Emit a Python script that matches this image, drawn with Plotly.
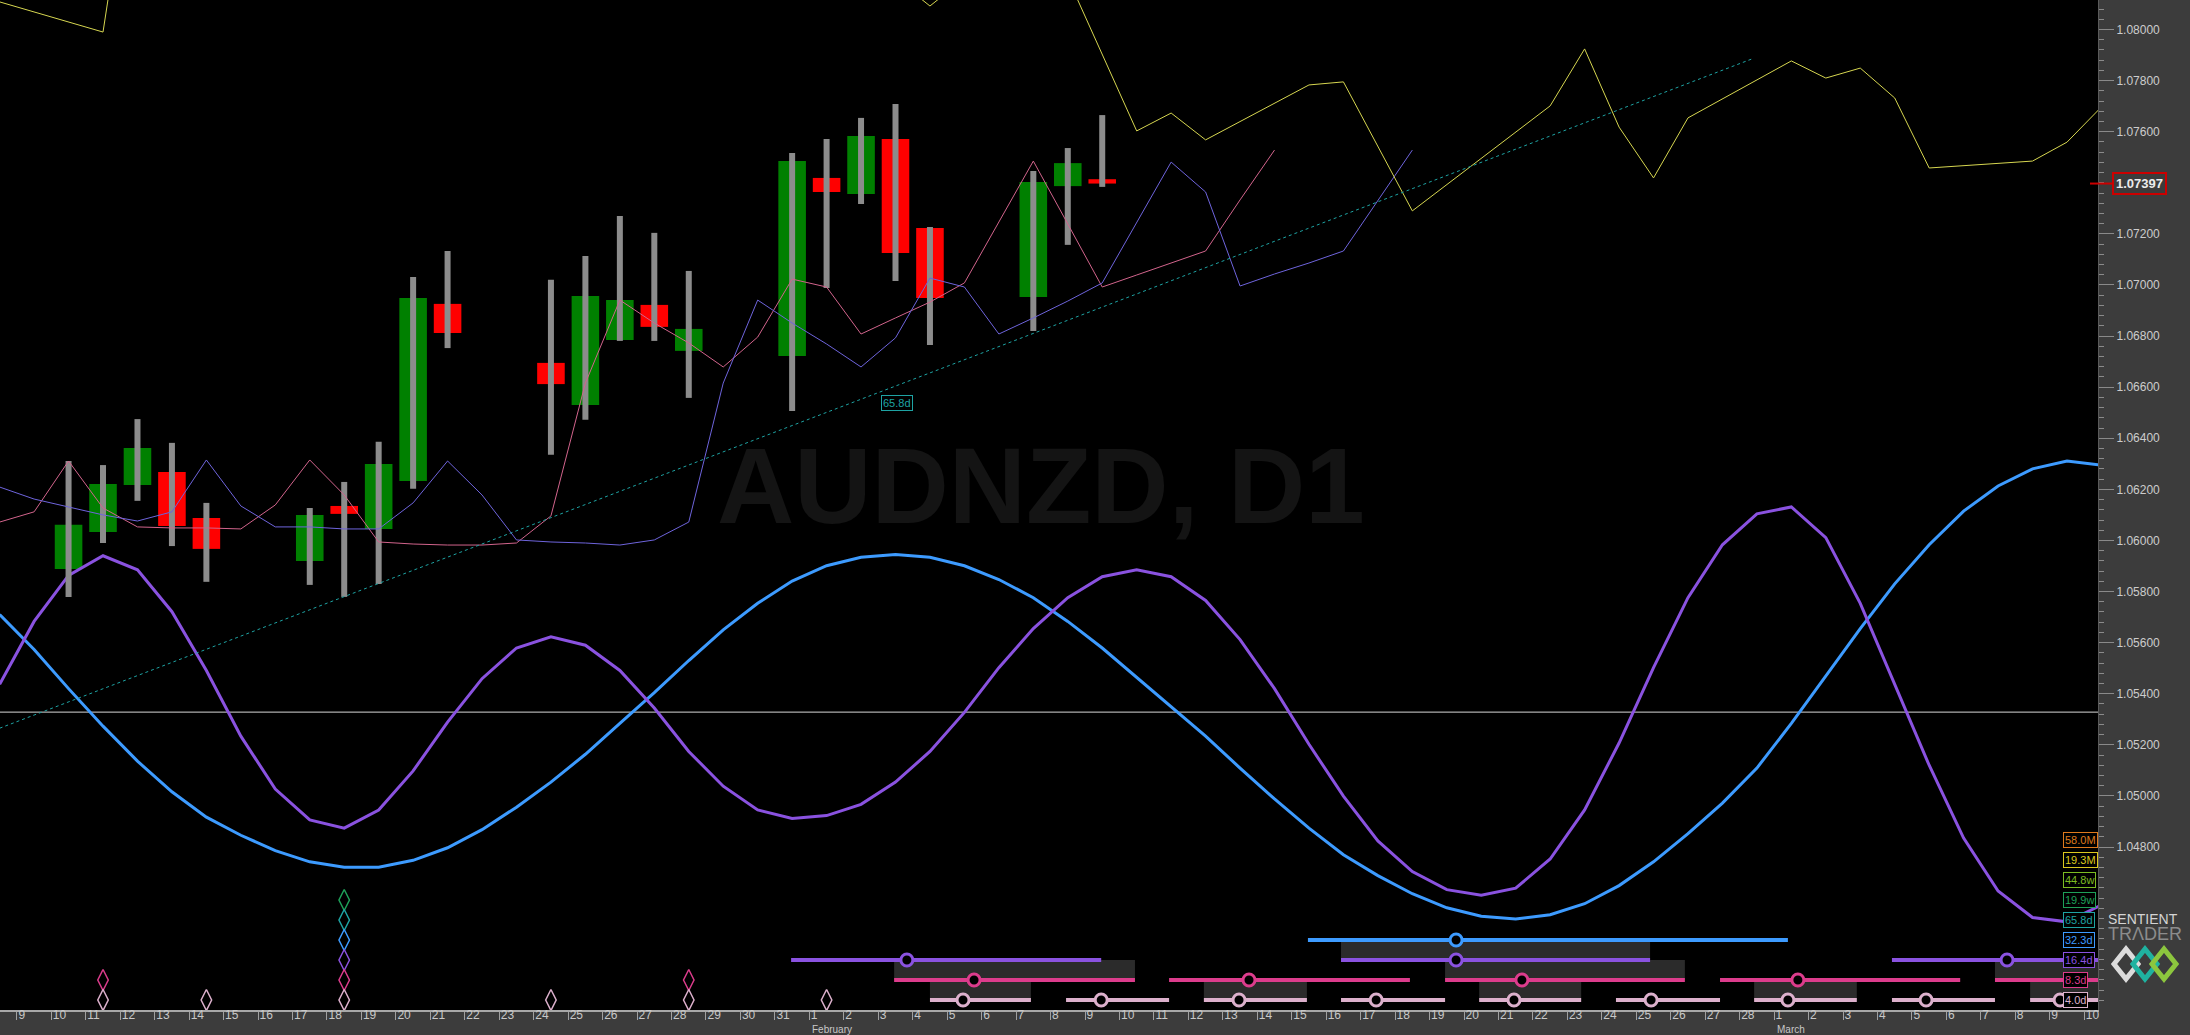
import plotly.graph_objects as go
from datetime import date

ORIGIN = date(2022, 1, 9)          # x = 0 is the start of 9 January

# ---------------- x axis ----------------
day_ticks = list(range(61))
day_labels = ["9", "10", "11", "12", "13", "14", "15", "16", "17", "18", "19", "20", "21", "22", "23",
              "24", "25", "26", "27", "28", "29", "30", "31",
              "1", "2", "3", "4", "5", "6", "7", "8", "9", "10", "11", "12", "13", "14", "15", "16",
              "17", "18", "19", "20", "21", "22", "23", "24", "25", "26", "27", "28",
              "1", "2", "3", "4", "5", "6", "7", "8", "9", "10"]
month_names = ["February", "March"]
month_ticks = [23, 51]

# ---------------- y axis labels (1.07400 sits under the last-price box) ----------------
price_ticks = [1.048, 1.050, 1.052, 1.054, 1.056, 1.058, 1.060, 1.062, 1.064, 1.066, 1.068, 1.070,
               1.072, 1.076, 1.078, 1.080]

# ---------------- daily candles ----------------
candle_dates = ["2022-01-10", "2022-01-11", "2022-01-12", "2022-01-13", "2022-01-14",
                "2022-01-17", "2022-01-18", "2022-01-19", "2022-01-20", "2022-01-21",
                "2022-01-24", "2022-01-25", "2022-01-26", "2022-01-27", "2022-01-28",
                "2022-01-31", "2022-02-01", "2022-02-02", "2022-02-03", "2022-02-04",
                "2022-02-07", "2022-02-08", "2022-02-09"]
opens = [1.05888, 1.06033, 1.06217, 1.06268, 1.06088, 1.05920, 1.06135, 1.06045, 1.06233, 1.06926,
         1.06695, 1.06530, 1.06785, 1.06922, 1.06742, 1.06722, 1.07419, 1.07356, 1.07571, 1.07223,
         1.06953, 1.07387, 1.07414]
highs = [1.06311, 1.06295, 1.06475, 1.06382, 1.06147, 1.06127, 1.06229, 1.06386, 1.07031, 1.07133,
         1.07020, 1.07113, 1.07270, 1.07204, 1.07055, 1.07517, 1.07571, 1.07654, 1.07708, 1.07227,
         1.07446, 1.07536, 1.07665]
lows = [1.05779, 1.05990, 1.06155, 1.05978, 1.05838, 1.05826, 1.05779, 1.05830, 1.06202, 1.06753,
        1.06335, 1.06472, 1.06781, 1.06781, 1.06558, 1.06507, 1.06988, 1.07317, 1.07016, 1.06765,
        1.06820, 1.07157, 1.07384]
closes = [1.06061, 1.06221, 1.06362, 1.06057, 1.05967, 1.06100, 1.06104, 1.06299, 1.06949, 1.06812,
          1.06612, 1.06957, 1.06941, 1.06836, 1.06828, 1.07485, 1.07364, 1.07583, 1.07125, 1.06949,
          1.07403, 1.07477, 1.07397]
last_price = 1.07397

# ---------------- thin projection lines (first value belongs to 8 January) ----------------
series_first_day = -1
fld_short = [1.06072, 1.06112, 1.06311, 1.06127, 1.06053, 1.06049, 1.06049, 1.06045, 1.06139, 1.06315,
             1.06178, 1.05994, 1.05986, 1.05982, 1.05982, 1.05990, 1.06096, 1.06616, 1.06941, 1.06851,
             1.06773, 1.06679, 1.06796, 1.07023, 1.06992, 1.06808, 1.06871, 1.06933, 1.07008, 1.07247,
             1.07485, 1.07239, 1.06992, 1.07039, 1.07086, 1.07133, 1.07333, 1.07528]
fld_long = [1.06209, 1.06162, 1.06131, 1.06100, 1.06076, 1.06112, 1.06315, 1.06135, 1.06053, 1.06053,
            1.06045, 1.06045, 1.06147, 1.06311, 1.06178, 1.06002, 1.05994, 1.05990, 1.05982, 1.06002,
            1.06072, 1.06616, 1.06941, 1.06851, 1.06769, 1.06679, 1.06793, 1.07027, 1.06992, 1.06808,
            1.06871, 1.06937, 1.07008, 1.07243, 1.07481, 1.07364, 1.06996, 1.07043, 1.07086, 1.07133,
            1.07333, 1.07528]
yellow_days = [-1, 2, 3, 25, 26, 27, 30, 32, 33, 34, 37, 38, 40, 44, 45, 46, 47, 48, 51, 52, 53, 54, 55,
               58, 59, 60]
yellow_vals = [1.08108, 1.07990, 1.08870, 1.08200, 1.08092, 1.08200, 1.08202, 1.07603, 1.07673, 1.07568,
               1.07783, 1.07795, 1.07290, 1.07701, 1.07924, 1.07618, 1.07419, 1.07654, 1.07877, 1.07810,
               1.07849, 1.07732, 1.07458, 1.07485, 1.07559, 1.07697]
trend_days = [-0.5, 50.4]
trend_vals = [1.05265, 1.07887]
trend_label = "65.8d"
trend_label_day = 25.54
trend_label_val = 1.06538
hline_val = 1.05328

# ---------------- cycle curves (first value belongs to 8 January) ----------------
cycle_16 = [1.05437, 1.05683, 1.05863, 1.05940, 1.05885, 1.05721, 1.05491, 1.05234, 1.05027, 1.04906,
            1.04874, 1.04945, 1.05098, 1.05289, 1.05459, 1.05579, 1.05623, 1.05590, 1.05491, 1.05344,
            1.05174, 1.05038, 1.04945, 1.04912, 1.04923, 1.04967, 1.05054, 1.05174, 1.05327, 1.05502,
            1.05655, 1.05776, 1.05858, 1.05885, 1.05858, 1.05765, 1.05612, 1.05420, 1.05202, 1.04999,
            1.04824, 1.04704, 1.04633, 1.04611, 1.04639, 1.04753, 1.04945, 1.05207, 1.05502, 1.05776,
            1.05983, 1.06104, 1.06131, 1.06011, 1.05754, 1.05437, 1.05120, 1.04835, 1.04628, 1.04524,
            1.04507, 1.04573]
cycle_32 = [1.05710, 1.05573, 1.05420, 1.05273, 1.05136, 1.05016, 1.04917, 1.04846, 1.04786, 1.04742,
            1.04721, 1.04721, 1.04748, 1.04797, 1.04868, 1.04956, 1.05054, 1.05163, 1.05284, 1.05404,
            1.05530, 1.05650, 1.05754, 1.05841, 1.05901, 1.05934, 1.05945, 1.05934, 1.05901, 1.05847,
            1.05776, 1.05683, 1.05579, 1.05464, 1.05349, 1.05234, 1.05109, 1.04988, 1.04874, 1.04770,
            1.04688, 1.04617, 1.04562, 1.04529, 1.04518, 1.04535, 1.04578, 1.04649, 1.04742, 1.04852,
            1.04972, 1.05109, 1.05284, 1.05469, 1.05655, 1.05830, 1.05983, 1.06115, 1.06213, 1.06280,
            1.06311, 1.06295]

# ---------------- cycle legend rows ----------------
cycle_names = ["58.0M", "19.3M", "44.8w", "19.9w", "65.8d", "32.3d", "16.4d", "8.3d", "4.0d"]
cycle_colors = ["#de7a1c", "#dcc81e", "#7cbc22", "#1ea058", "#1ea3a3", "#3d9bff", "#8a52e0", "#dc3c8c", "#dcb0cc"]

# timing bands: row -> (starts, ends, peak markers)   (x in days from 9 January)
band_rows = [5, 6, 7, 8]
band_starts = [[37.47], [22.47, 38.43, 54.42], [25.46, 33.44, 41.45, 49.43, 57.41],
               [26.5, 30.45, 34.45, 38.43, 42.44, 46.41, 50.42, 54.42, 58.43]]
band_ends = [[51.4], [31.47, 47.4, 60.6], [32.45, 40.43, 48.41, 56.4, 60.6],
             [29.43, 33.44, 37.44, 41.45, 45.4, 49.43, 53.4, 57.41, 60.6]]
band_peaks = [[41.77], [25.83, 41.77, 57.76], [27.78, 35.76, 43.68, 51.69, 59.7],
              [27.46, 31.47, 35.47, 39.45, 43.45, 47.43, 51.4, 55.41, 59.3]]
window_rows = [5, 6, 6, 6, 7, 7, 7, 7, 7]
window_starts = [38.43, 25.46, 41.45, 57.41, 26.5, 34.45, 42.44, 50.42, 58.43]
window_ends = [47.4, 32.45, 48.41, 60.6, 29.43, 37.44, 45.4, 53.4, 60.6]

# trough diamonds
diamond_days = [2.5, 2.5, 5.5, 9.5, 9.5, 9.5, 9.5, 9.5, 9.5, 15.5, 19.5, 19.5, 23.5]
diamond_rows = [7, 8, 8, 3, 4, 5, 6, 7, 8, 8, 7, 8, 8]

# ============================================================
W, H = 2190, 1035
ML, MR, MT, MB = 0, 92, 0, 25
PW, PH = W - ML - MR, H - MT - MB

def px_x(px):
    return (px - ML) / PW

def px_y(py):
    return (PH - py) / PH

def centers(first, n):
    return [first + k + 0.5 for k in range(n)]

fig = go.Figure()

# watermark
fig.add_trace(go.Scatter(x=[29.72], y=[1.06174], mode="text", text=["AUDNZD, D1"],
                         textfont=dict(size=107, color="#141414", family="Liberation Sans", weight="bold"),
                         hoverinfo="skip"))

# big cycle curves
fig.add_trace(go.Scatter(x=centers(series_first_day, len(cycle_32)), y=cycle_32, mode="lines",
                         line=dict(color="#3d9bff", width=3), hoverinfo="skip"))
fig.add_trace(go.Scatter(x=centers(series_first_day, len(cycle_16)), y=cycle_16, mode="lines",
                         line=dict(color="#8a52e0", width=3), hoverinfo="skip"))

# candles
cx = [(date.fromisoformat(d) - ORIGIN).days + 0.5 for d in candle_dates]
wx, wy = [], []
for x, lo, hi in zip(cx, lows, highs):
    wx += [x, x, None]
    wy += [lo, hi, None]
fig.add_trace(go.Scatter(x=wx, y=wy, mode="lines", line=dict(color="#8c8c8c", width=6), hoverinfo="skip"))
for up, col in [(True, "#008000"), (False, "#ff0000")]:
    xs, hs, bs = [], [], []
    for x, o, c in zip(cx, opens, closes):
        if (c >= o) == up:
            xs.append(x)
            hs.append(abs(c - o))
            bs.append(min(o, c))
    fig.add_trace(go.Bar(x=xs, y=hs, base=bs, width=0.8, marker=dict(color=col, line=dict(width=0)),
                         hoverinfo="skip"))

# thin lines
fig.add_trace(go.Scatter(x=centers(series_first_day, len(fld_short)), y=fld_short, mode="lines",
                         line=dict(color="#d2648c", width=1), hoverinfo="skip"))
fig.add_trace(go.Scatter(x=centers(series_first_day, len(fld_long)), y=fld_long, mode="lines",
                         line=dict(color="#6e64dc", width=1), hoverinfo="skip"))
fig.add_trace(go.Scatter(x=[d + 0.5 for d in yellow_days], y=yellow_vals, mode="lines",
                         line=dict(color="#d6d650", width=1), hoverinfo="skip"))
fig.add_trace(go.Scatter(x=trend_days, y=trend_vals, mode="lines",
                         line=dict(color="#1ea3a3", width=1, dash="dot"), hoverinfo="skip"))

# timing bands (secondary row axis)
for row, starts, ends, peaks in zip(band_rows, band_starts, band_ends, band_peaks):
    col = cycle_colors[row]
    bx, by = [], []
    for s, e in zip(starts, ends):
        bx += [s, e, None]
        by += [row, row, None]
    fig.add_trace(go.Scatter(x=bx, y=by, yaxis="y2", mode="lines", line=dict(color=col, width=4),
                             hoverinfo="skip"))
    fig.add_trace(go.Scatter(x=peaks, y=[row] * len(peaks), yaxis="y2", mode="markers",
                             marker=dict(symbol="circle", size=12, color="#000000",
                                         line=dict(color=col, width=3)), hoverinfo="skip"))

fig.add_trace(go.Scatter(x=diamond_days, y=diamond_rows, yaxis="y2", mode="markers",
                         marker=dict(symbol="diamond-tall-open", size=15,
                                     color=[cycle_colors[r] for r in diamond_rows],
                                     line=dict(width=1.5)), hoverinfo="skip"))

shapes = []
for r, s, e in zip(window_rows, window_starts, window_ends):
    shapes.append(dict(type="rect", xref="x", yref="y2", x0=s, x1=e, y0=r, y1=r + 1,
                       fillcolor="#2b2b2b", line=dict(width=0), layer="below"))
shapes.append(dict(type="line", xref="paper", yref="y", x0=0, x1=1, y0=hline_val, y1=hline_val,
                   line=dict(color="#d8d8d8", width=1), layer="below"))
shapes.append(dict(type="line", xref="paper", yref="y", x0=px_x(2090), x1=px_x(2112),
                   y0=last_price, y1=last_price, line=dict(color="#cc0000", width=2)))

# logo diamonds
for cxp, col in [(2126, "#dcdcdc"), (2145, "#1fb2a0"), (2164, "#8cc63e")]:
    pts = [(cxp - 12, 964), (cxp, 949), (cxp + 12, 964), (cxp, 979)]
    path = "M " + " L ".join(f"{px_x(a):.5f},{px_y(b):.5f}" for a, b in pts) + " Z"
    shapes.append(dict(type="path", xref="paper", yref="paper", path=path,
                       line=dict(color=col, width=5)))

annotations = []
for row, (name, col) in enumerate(zip(cycle_names, cycle_colors)):
    annotations.append(dict(xref="paper", yref="y2", x=px_x(2063), y=row, xanchor="left", yanchor="middle",
                            text=name, showarrow=False, font=dict(size=11, color=col, family="Liberation Sans"),
                            bgcolor="#000000", bordercolor=col, borderwidth=1, borderpad=1))
annotations.append(dict(xref="x", yref="y", x=trend_label_day, y=trend_label_val, text=trend_label,
                        xanchor="center", yanchor="middle",
                        showarrow=False, font=dict(size=11, color="#1ea3a3", family="Liberation Sans"),
                        bgcolor="#000000", bordercolor="#1ea3a3", borderwidth=1, borderpad=1))
annotations.append(dict(xref="paper", yref="y", x=px_x(2112), y=last_price, xanchor="left", yanchor="middle",
                        text="<b>1.07397</b>", showarrow=False,
                        font=dict(size=13, color="#ececec", family="Liberation Sans"),
                        bgcolor="#3c3c3c", bordercolor="#cc0000", borderwidth=2, borderpad=2))
for name, t in zip(month_names, month_ticks):
    annotations.append(dict(xref="x", yref="paper", x=t, y=px_y(1029), xanchor="left", yanchor="middle",
                            xshift=1, text=name, showarrow=False,
                            font=dict(size=10, color="#c8c8c8", family="Liberation Sans Narrow, Liberation Sans")))
annotations.append(dict(xref="paper", yref="paper", x=px_x(2143), y=px_y(919), text="SENTIENT",
                        xanchor="center", yanchor="middle",
                        showarrow=False, font=dict(size=14, color="#d4d4d4", family="Liberation Sans")))
annotations.append(dict(xref="paper", yref="paper", x=px_x(2145), y=px_y(934), text="TRΛDER",
                        xanchor="center", yanchor="middle",
                        showarrow=False, font=dict(size=18, color="#8c8c8c", family="Liberation Sans")))

fig.update_layout(
    width=W, height=H, margin=dict(l=ML, r=MR, t=MT, b=MB, pad=0),
    paper_bgcolor="#3c3c3c", plot_bgcolor="#000000",
    showlegend=False, hovermode=False, barmode="overlay", dragmode=False,
    shapes=shapes, annotations=annotations,
    xaxis=dict(range=[-0.49, 60.4], tickmode="array", tickvals=day_ticks, ticktext=day_labels,
               ticks="outside", ticklen=8, tickcolor="#a0a0a0", tickwidth=1,
               ticklabelposition="outside right", ticklabelstandoff=-7,
               tickfont=dict(size=12, color="#c8c8c8", family="Liberation Sans Narrow, Liberation Sans"),
               showgrid=False, zeroline=False, showline=True, linecolor="#a8a8a8", linewidth=2,
               automargin=False, fixedrange=True),
    yaxis=dict(side="right", range=[1.04162, 1.081155], tickmode="array", tickvals=price_ticks,
               tickformat=".5f", ticks="outside", ticklen=15, tickcolor="#8a8a8a", tickwidth=1,
               tickfont=dict(size=12, color="#cccccc", family="Liberation Sans"),
               minor=dict(ticks="outside", ticklen=5, tickcolor="#8a8a8a", tickmode="linear",
                          tick0=1.048, dtick=0.0004, showgrid=False),
               showgrid=False, zeroline=False, showline=True, linecolor="#5a5a5a",
               automargin=False, fixedrange=True),
    yaxis2=dict(overlaying="y", range=[8.5, -42], visible=False, fixedrange=True),
)

fig.write_html("out.html", config={"displayModeBar": False},
               post_script="document.body.style.margin='0';document.body.style.overflow='hidden';")
